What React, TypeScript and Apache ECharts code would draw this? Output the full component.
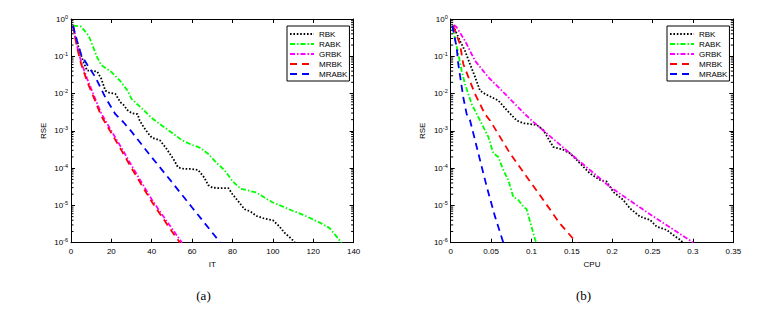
import React, { useEffect, useRef } from "react";
import * as echarts from "echarts";

// ---- Plot (a): RSE vs IT ----
const itRBK_x = [1, 2, 4, 6, 8, 10, 13, 15, 17, 19, 22, 24.4, 26, 28, 30, 33, 34, 36, 38, 40, 44, 47, 51, 53, 56, 60, 63, 66, 68, 70, 74, 78, 80, 83, 86, 89, 92, 96, 100, 103, 106, 109, 111];
const itRBK_y = [0.66, 0.35, 0.16, 0.074, 0.041, 0.041, 0.039, 0.025, 0.012, 0.0105, 0.0098, 0.0059, 0.005, 0.0036, 0.003, 0.0028, 0.0019, 0.00126, 8.9e-4, 6.6e-4, 5.6e-4, 3.5e-4, 1.66e-4, 1.05e-4, 9.5e-5, 9.5e-5, 8.9e-5, 5.6e-5, 3.5e-5, 3.0e-5, 2.9e-5, 2.9e-5, 2.0e-5, 1.26e-5, 7.9e-6, 6.8e-6, 5.2e-6, 4.4e-6, 4.0e-6, 2.8e-6, 1.8e-6, 1.3e-6, 1e-6];
const itRABK_x = [1, 5, 8, 9, 13, 15, 20, 24, 28, 30, 37, 40, 45, 50, 55, 60, 64, 68, 72, 76, 80, 84, 88, 92, 96, 100, 105, 110, 115, 120, 124, 128, 131, 134];
const itRABK_y = [0.66, 0.63, 0.4, 0.33, 0.093, 0.058, 0.038, 0.023, 0.012, 0.0072, 0.0032, 0.0022, 0.0014, 8.9e-4, 5.6e-4, 4.2e-4, 3.5e-4, 2.4e-4, 1.4e-4, 8.9e-5, 4.5e-5, 2.8e-5, 2.5e-5, 2.2e-5, 1.6e-5, 1.2e-5, 9.3e-6, 7.1e-6, 5.6e-6, 4.2e-6, 3.3e-6, 2.5e-6, 1.6e-6, 1e-6];
const itGRBK_x = [1, 3, 5, 8, 11, 15, 20, 25, 30, 35, 40, 45, 50, 55];
const itGRBK_y = [0.66, 0.19, 0.072, 0.025, 0.0098, 0.0029, 1.0e-3, 3.5e-4, 1.18e-4, 4.1e-5, 1.45e-5, 5.8e-6, 2.4e-6, 1e-6];
const itMRBK_x = [1, 3, 5, 8, 11, 15, 20, 25, 30, 35, 40, 45, 50, 54];
const itMRBK_y = [0.66, 0.17, 0.063, 0.021, 0.0085, 0.0025, 8.7e-4, 3.0e-4, 1.0e-4, 3.5e-5, 1.26e-5, 5e-6, 2.0e-6, 1e-6];
const itMRABK_x = [1, 3, 5, 8, 12, 17, 22, 26, 30, 40, 50, 60, 70, 74];
const itMRABK_y = [0.66, 0.26, 0.11, 0.06, 0.028, 0.0079, 0.0028, 0.0017, 9.5e-4, 1.95e-4, 4.2e-5, 8.8e-6, 1.86e-6, 1e-6];

// ---- Plot (b): RSE vs CPU ----
const cpuRBK_x = [0.003, 0.0115, 0.0177, 0.0239, 0.0301, 0.0363, 0.0425, 0.059, 0.07, 0.0817, 0.09, 0.1065, 0.1147, 0.127, 0.1395, 0.1477, 0.156, 0.164, 0.1725, 0.185, 0.193, 0.2014, 0.2138, 0.222, 0.2345, 0.2468, 0.255, 0.2675, 0.2757, 0.284, 0.288];
const cpuRBK_y = [0.66, 0.26, 0.14, 0.062, 0.028, 0.012, 0.0098, 0.0065, 0.0035, 0.0019, 0.0016, 0.00145, 0.00105, 3.7e-4, 3.1e-4, 2.5e-4, 1.66e-4, 1.1e-4, 7.2e-5, 4.8e-5, 4.4e-5, 2.3e-5, 1.4e-5, 8.3e-6, 5e-6, 4.1e-6, 2.7e-6, 2.2e-6, 1.6e-6, 1.2e-6, 1e-6];
const cpuRABK_x = [0.002, 0.0094, 0.0136, 0.0177, 0.026, 0.0363, 0.0466, 0.0528, 0.059, 0.0651, 0.0713, 0.0775, 0.0837, 0.0899, 0.094, 0.1023, 0.1057];
const cpuRABK_y = [0.66, 0.115, 0.041, 0.018, 0.0052, 0.0019, 6.9e-4, 2.5e-4, 2.0e-4, 8.9e-5, 4.8e-5, 1.7e-5, 1.4e-5, 9.3e-6, 7.9e-6, 1.8e-6, 1e-6];
const cpuGRBK_x = [0.004, 0.0074, 0.0177, 0.0301, 0.0466, 0.0673, 0.092, 0.1003, 0.1477, 0.197, 0.2386, 0.3005];
const cpuGRBK_y = [0.69, 0.6, 0.26, 0.076, 0.0275, 0.0098, 0.0028, 0.0019, 2.5e-4, 3.2e-5, 7.6e-6, 1e-6];
const cpuMRBK_x = [0.003, 0.0115, 0.0156, 0.0218, 0.0301, 0.0425, 0.0487, 0.0734, 0.094, 0.1147, 0.135, 0.156];
const cpuMRBK_y = [0.66, 0.21, 0.062, 0.028, 0.0098, 0.0028, 0.0019, 2.5e-4, 5.9e-5, 1.4e-5, 3.3e-6, 1e-6];
const cpuMRABK_x = [0.002, 0.0074, 0.0094, 0.0156, 0.0198, 0.024, 0.0342, 0.0446, 0.0549, 0.0652];
const cpuMRABK_y = [0.66, 0.17, 0.062, 0.0079, 0.0028, 0.0019, 2.5e-4, 3.2e-5, 5e-6, 1e-6];

const seriesNames = ["RBK", "RABK", "GRBK", "MRBK", "MRABK"];
const xTicksA = { min: 0, max: 140, interval: 20 };
const xTicksB = { min: 0, max: 0.35, interval: 0.05 };
const yRange = { min: 1e-6, max: 1 };
const panelLabels = ["(a)", "(b)"];
const axisNamesX = ["IT", "CPU"];
const axisNameY = "RSE";

const zip = (xs: number[], ys: number[]) => xs.map((x, i) => [x, ys[i]]);

const styles: Record<string, { color: string; type: number[] }> = {
  RBK: { color: "#000000", type: [1.6, 1.8] },
  RABK: { color: "#00ff00", type: [5, 2, 1.5, 2] },
  GRBK: { color: "#ff00ff", type: [5, 2, 1.5, 2] },
  MRBK: { color: "#ff0000", type: [7, 5] },
  MRABK: { color: "#0000ff", type: [7, 5] },
};

const FONT = "Liberation Sans";

export default function App() {
  const ref = useRef<HTMLDivElement>(null);
  useEffect(() => {
    if (!ref.current) return;
    const chart = echarts.init(ref.current, undefined, { renderer: "svg" });

    const grids = [
      { left: 71, top: 19, width: 282.6, height: 223.7 },
      { left: 450.7, top: 19, width: 282.6, height: 223.7 },
    ];
    const xr = [xTicksA, xTicksB];

    const xAxes: any[] = [];
    const yAxes: any[] = [];
    [0, 1].forEach((g) => {
      xAxes.push({
        type: "value",
        gridIndex: g,
        position: "bottom",
        min: xr[g].min,
        max: xr[g].max,
        interval: xr[g].interval,
        name: axisNamesX[g],
        nameLocation: "middle",
        nameGap: 18,
        nameTextStyle: { fontFamily: FONT, fontSize: 8, color: "#000" },
        axisLine: { show: true, onZero: false, lineStyle: { color: "#000", width: 1 } },
        axisTick: { show: true, inside: true, length: 4, lineStyle: { color: "#000" } },
        axisLabel: { fontFamily: FONT, fontSize: 8, color: "#000", margin: 5 },
        splitLine: { show: false },
      });
      xAxes.push({
        type: "value",
        gridIndex: g,
        position: "top",
        min: xr[g].min,
        max: xr[g].max,
        interval: xr[g].interval,
        axisLine: { show: true, onZero: false, lineStyle: { color: "#000", width: 1 } },
        axisTick: { show: true, inside: true, length: 4, lineStyle: { color: "#000" } },
        axisLabel: { show: false },
        splitLine: { show: false },
      });
      yAxes.push({
        type: "log",
        logBase: 10,
        gridIndex: g,
        position: "left",
        min: yRange.min,
        max: yRange.max,
        splitNumber: 6,
        name: axisNameY,
        nameLocation: "middle",
        nameGap: 24,
        nameRotate: 90,
        nameTextStyle: { fontFamily: FONT, fontSize: 8, color: "#000" },
        axisLine: { show: true, onZero: false, lineStyle: { color: "#000", width: 1 } },
        axisTick: { show: true, inside: true, length: 4, lineStyle: { color: "#000" } },
        axisLabel: {
          fontFamily: FONT,
          fontSize: 8,
          color: "#000",
          margin: 3,
          formatter: (v: number) => "10{sup|" + Math.round(Math.log10(v)) + "}",
          rich: { sup: { fontFamily: FONT, fontSize: 5.5, color: "#000", padding: [0, 0, 5, 0] } },
        },
        splitLine: { show: false },
      });
      yAxes.push({
        type: "log",
        logBase: 10,
        gridIndex: g,
        position: "right",
        min: yRange.min,
        max: yRange.max,
        splitNumber: 6,
        axisLine: { show: true, onZero: false, lineStyle: { color: "#000", width: 1 } },
        axisTick: { show: true, inside: true, length: 4, lineStyle: { color: "#000" } },
        axisLabel: { show: false },
        splitLine: { show: false },
      });
    });

    const dataA: Record<string, number[][]> = {
      RBK: zip(itRBK_x, itRBK_y),
      RABK: zip(itRABK_x, itRABK_y),
      GRBK: zip(itGRBK_x, itGRBK_y),
      MRBK: zip(itMRBK_x, itMRBK_y),
      MRABK: zip(itMRABK_x, itMRABK_y),
    };
    const dataB: Record<string, number[][]> = {
      RBK: zip(cpuRBK_x, cpuRBK_y),
      RABK: zip(cpuRABK_x, cpuRABK_y),
      GRBK: zip(cpuGRBK_x, cpuGRBK_y),
      MRBK: zip(cpuMRBK_x, cpuMRBK_y),
      MRABK: zip(cpuMRABK_x, cpuMRABK_y),
    };

    const series: any[] = [];
    [dataA, dataB].forEach((d, g) => {
      seriesNames.forEach((n) => {
        series.push({
          type: "line",
          name: n,
          xAxisIndex: g * 2,
          yAxisIndex: g * 2,
          data: d[n],
          symbol: "none",
          showSymbol: false,
          lineStyle: { color: styles[n].color, width: 1.8, type: styles[n].type },
          itemStyle: { color: styles[n].color },
          clip: true,
        });
      });
      // minor log ticks on left and right edges
      const minor: number[][] = [];
      for (let e = -6; e < 0; e++) {
        for (let k = 2; k <= 9; k++) minor.push([0, k * Math.pow(10, e)]);
      }
      const xmin = xr[g].min;
      const xmax = xr[g].max;
      series.push({
        type: "custom",
        xAxisIndex: g * 2,
        yAxisIndex: g * 2,
        silent: true,
        clip: false,
        data: minor,
        renderItem: (params: any, api: any) => {
          const v = api.value(1);
          const pl = api.coord([xmin, v]);
          const pr = api.coord([xmax, v]);
          return {
            type: "group",
            children: [
              { type: "line", shape: { x1: pl[0], y1: pl[1], x2: pl[0] + 2.5, y2: pl[1] }, style: { stroke: "#000", lineWidth: 1 } },
              { type: "line", shape: { x1: pr[0], y1: pr[1], x2: pr[0] - 2.5, y2: pr[1] }, style: { stroke: "#000", lineWidth: 1 } },
            ],
          };
        },
      });
    });

    const legendBase = {
      orient: "vertical",
      top: 26,
      data: seriesNames,
      itemWidth: 24,
      itemHeight: 8,
      itemGap: 2,
      padding: [4, 2, 3, 2],
      borderColor: "#000",
      borderWidth: 1,
      borderRadius: 0,
      backgroundColor: "#fff",
      selectedMode: false,
      itemStyle: { opacity: 0 },
      textStyle: { fontFamily: FONT, fontSize: 8, color: "#000" },
    };

    chart.setOption({
      animation: false,
      backgroundColor: "#fff",
      grid: grids,
      xAxis: xAxes,
      yAxis: yAxes,
      legend: [
        { ...legendBase, left: 287 },
        { ...legendBase, left: 667 },
      ],
      series,
      graphic: [
        {
          type: "text",
          x: 203.5,
          y: 295,
          style: { text: panelLabels[0], font: '13px "Liberation Serif"', fill: "#000", textAlign: "center", textVerticalAlign: "middle" },
        },
        {
          type: "text",
          x: 583.5,
          y: 295,
          style: { text: panelLabels[1], font: '13px "Liberation Serif"', fill: "#000", textAlign: "center", textVerticalAlign: "middle" },
        },
      ],
    });
    return () => chart.dispose();
  }, []);
  return <div ref={ref} style={{ position: "fixed", left: 0, top: 0, width: 769, height: 314 }} />;
}
